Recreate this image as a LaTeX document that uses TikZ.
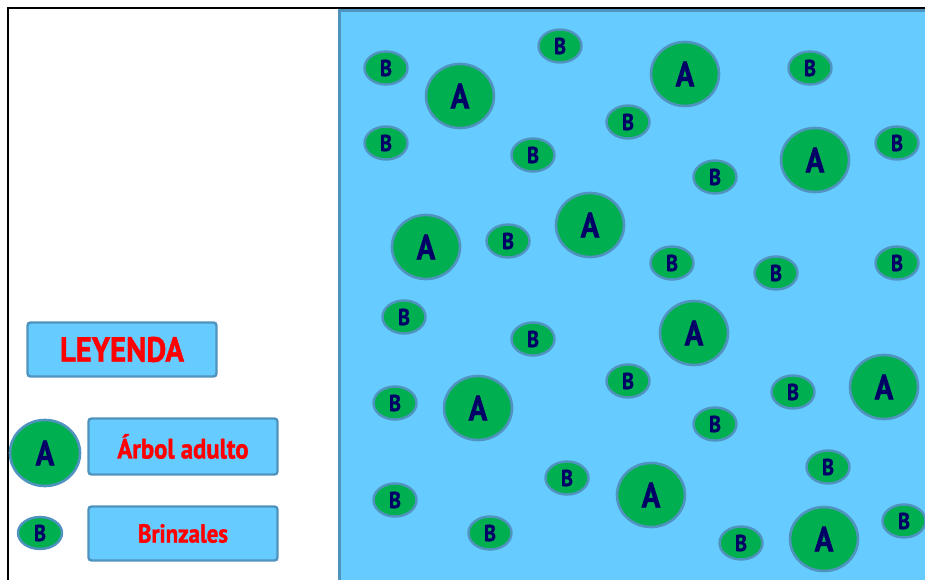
\documentclass[tikz,border=0pt]{standalone}
\usepackage{fontspec}
\setmainfont{PT Sans}
\newfontfamily\cond[FakeStretch=0.88,FakeBold=1.2]{PT Sans}
\usetikzlibrary{shapes.geometric}
\definecolor{skyb}{HTML}{66CCFF}
\definecolor{edgeb}{HTML}{4F93BE}
\definecolor{treeg}{HTML}{00B050}
\definecolor{navy}{HTML}{000066}
\tikzset{
  adult/.style={ellipse, draw=edgeb, line width=2.6pt, fill=treeg, minimum width=68pt, minimum height=64pt, inner sep=0pt, text=navy, font=\cond\bfseries\fontsize{35}{35}\selectfont},
  sapling/.style={ellipse, draw=edgeb, line width=2.4pt, fill=treeg, minimum width=43pt, minimum height=33pt, inner sep=0pt, text=navy, font=\cond\bfseries\fontsize{23}{23}\selectfont},
  legbox/.style={draw=edgeb, line width=2.4pt, fill=skyb, rounded corners=3pt, text=red, inner sep=0pt}
}
\begin{document}
\begin{tikzpicture}[x=1pt,y=-1pt]
\useasboundingbox (0,0) rectangle (925,580);
\fill[white] (0,0) rectangle (925,580);
\draw[black, line width=2pt] (8,585) -- (8,8) -- (930,8);
\draw[edgeb, line width=3pt, fill=skyb] (339.5,10.5) rectangle (940,590);
% adults
\node[adult] (a1) at (460,96) {A};
\node[adult] (a2) at (685,74) {A};
\node[adult] (a3) at (815,160) {A};
\node[adult] (a4) at (590,225) {A};
\node[adult] (a5) at (426,247) {A};
\node[adult] (a6) at (694,333) {A};
\node[adult] (a7) at (884,387) {A};
\node[adult] (a8) at (478,408) {A};
\node[adult] (a9) at (651,495) {A};
\node[adult] (a10) at (824,539) {A};
% saplings
\node[sapling] (b1) at (386,68) {B};
\node[sapling] (b2) at (560,46) {B};
\node[sapling] (b3) at (810,68) {B};
\node[sapling] (b4) at (628,122) {B};
\node[sapling] (b5) at (386,143) {B};
\node[sapling] (b6) at (533,155) {B};
\node[sapling] (b7) at (715,177) {B};
\node[sapling] (b8) at (897,143) {B};
\node[sapling] (b9) at (508,241) {B};
\node[sapling] (b10) at (672,263) {B};
\node[sapling] (b11) at (776,273) {B};
\node[sapling] (b12) at (897,263) {B};
\node[sapling] (b13) at (404,317) {B};
\node[sapling] (b14) at (533,339) {B};
\node[sapling] (b15) at (628,381) {B};
\node[sapling] (b16) at (395,403) {B};
\node[sapling] (b17) at (793,392) {B};
\node[sapling] (b18) at (715,424) {B};
\node[sapling] (b19) at (828,467) {B};
\node[sapling] (b20) at (567,478) {B};
\node[sapling] (b21) at (395,500) {B};
\node[sapling] (b22) at (490,533) {B};
\node[sapling] (b23) at (741,543) {B};
\node[sapling] (b24) at (904,521) {B};
% legend
\node[legbox, minimum width=189pt, minimum height=54pt, font=\cond\bfseries\fontsize{35}{35}\selectfont] (ley) at (122,349.5) {LEYENDA};
\node[adult, minimum width=70pt, minimum height=66pt] (la) at (45,453) {A};
\node[legbox, minimum width=189pt, minimum height=56pt, font=\cond\bfseries\fontsize{28}{28}\selectfont] (lat) at (183,446.5) {Árbol adulto};
\node[sapling, minimum width=44pt, minimum height=32pt] (lb) at (40,533) {B};
\node[legbox, minimum width=189pt, minimum height=54pt, font=\cond\bfseries\fontsize{26}{26}\selectfont] (lbt) at (183,533.5) {Brinzales};
\end{tikzpicture}
\end{document}
